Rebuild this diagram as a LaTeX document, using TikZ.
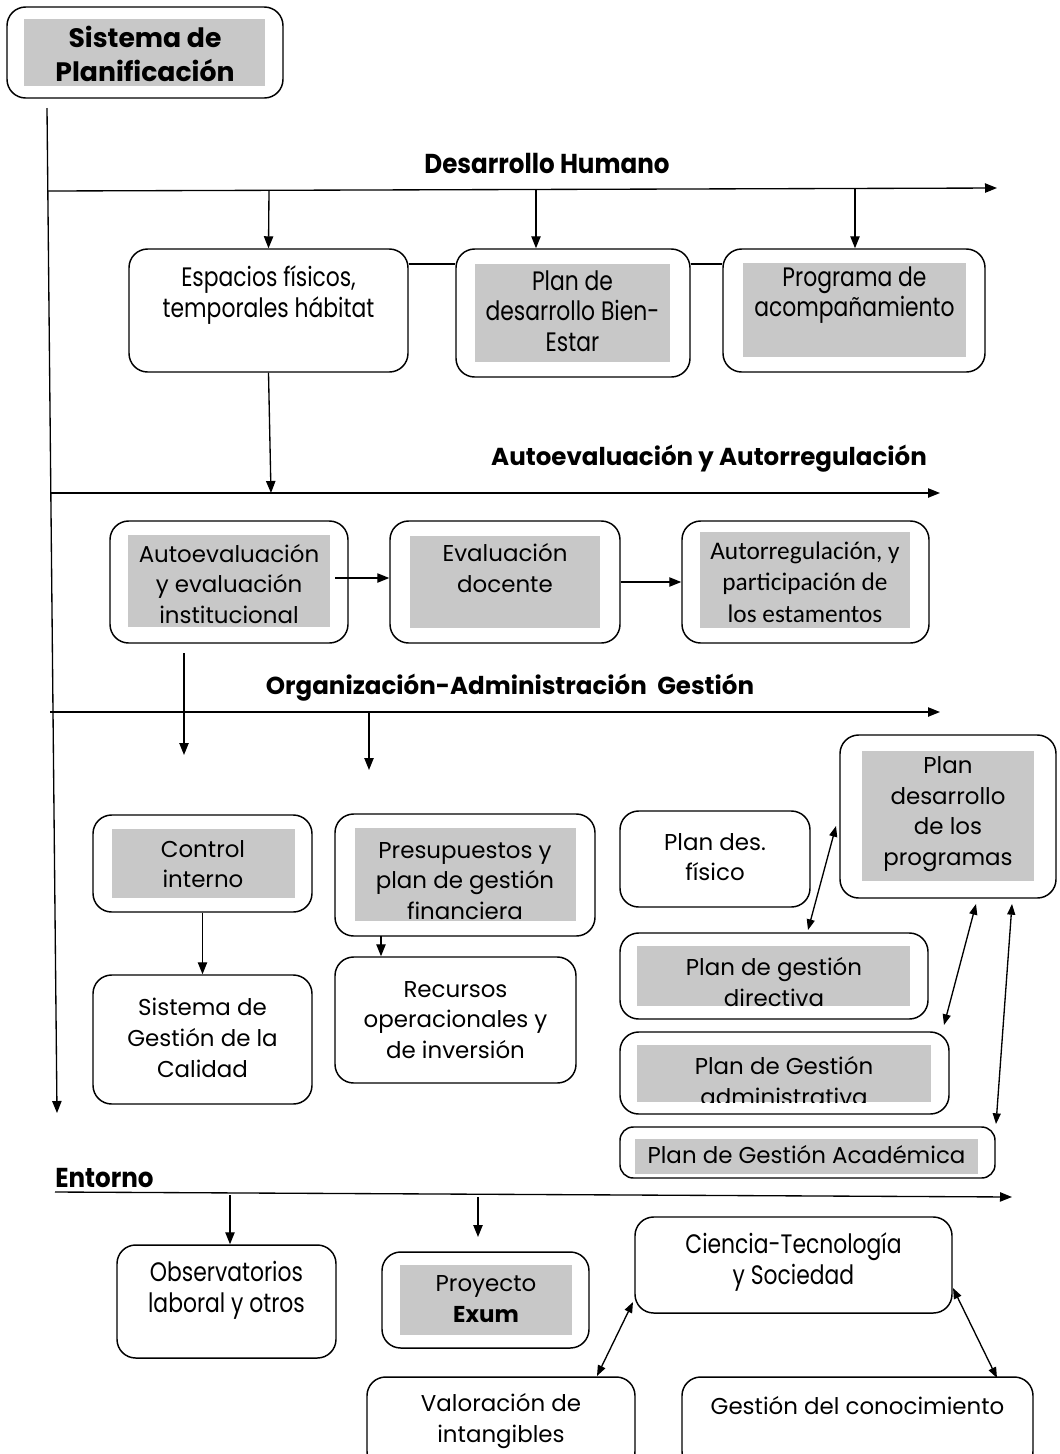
\documentclass[tikz,border=0pt]{standalone}
\usepackage{fontspec}
\setmainfont{Poppins}
\newfontfamily\condfont[FakeStretch=0.82]{Poppins}
\newfontfamily\condtfont[FakeStretch=0.9]{Poppins}
\newfontfamily\calibfont{Carlito}
\usetikzlibrary{arrows.meta}
\definecolor{gfill}{RGB}{200,200,200}
\begin{document}
\begin{tikzpicture}[x=0.75pt,y=-0.75pt,
 rbox/.style 2 args={draw, line width=1.1pt, rounded corners=14pt, minimum width=#1*0.75pt, minimum height=#2*0.75pt, inner sep=0pt, fill=white},
 gbox/.style 2 args={fill=gfill, minimum width=#1*0.75pt, minimum height=#2*0.75pt, inner sep=0pt},
 txt/.style={align=center, font=\fontsize{17.2}{23}\selectfont, inner sep=0pt},
 ctxt/.style={align=center, font=\condfont\fontsize{20}{23}\selectfont, inner sep=0pt},
 ttl/.style={font=\bfseries\fontsize{18.4}{22}\selectfont, inner sep=0pt},
 cttl/.style={font=\condtfont\bfseries\fontsize{20.5}{22}\selectfont, inner sep=0pt},
 arr/.style={line width=1pt, -{Triangle[length=9pt,width=7pt]}},
 darr/.style={line width=1pt, {Triangle[length=8pt,width=6pt]}-{Triangle[length=8pt,width=6pt]}},
 ln/.style={line width=1pt}
]
\useasboundingbox (0,0) rectangle (1060,1454);

% ---------- top box
\node[rbox={276}{91}] (sp) at (145,52.5) {};
\node[gbox={241}{67}] (spg) at (144.5,52.5) {};
\node[align=center, font=\bfseries\fontsize{20}{25}\selectfont, inner sep=0pt] (spt) at (145,54) {Sistema de\\Planificación};

% main vertical line
\coordinate (m0) at (47,108);
\coordinate (m1) at (57,1113);
\draw[arr] (m0) -- (m1);

% ---------- Desarrollo Humano
\coordinate (h1a) at (48,191);
\coordinate (h1b) at (997,188);
\draw[arr] (h1a) -- (h1b);
\node[cttl] (t1) at (547,163) {Desarrollo Humano};

\node[rbox={279}{123}] (e) at (268.5,310.5) {};
\node[ctxt] (et) at (268.5,295) {Espacios físicos,\\temporales hábitat};

\node[rbox={234}{128}] (pd) at (573,313) {};
\node[gbox={195}{98}] (pdg) at (572.5,313) {};
\node[ctxt] (pdt) at (572.5,311) {Plan de\\desarrollo Bien-\\Estar};

\node[rbox={262}{123}] (pa) at (854,310.5) {};
\node[gbox={223}{94}] (pag) at (854.5,310) {};
\node[ctxt] (pat) at (854.5,295) {Programa de\\acompañamiento};

\coordinate (y264) at (0,264);
\draw[ln] (e.east |- y264) -- (pd.west |- y264);
\draw[ln] (pd.east |- y264) -- (pa.west |- y264);

\coordinate (d1) at (269,191);
\coordinate (d2) at (536,190);
\coordinate (d3) at (855,189);
\draw[arr] (d1) -- (e.north);
\draw[arr] (d2) -- (d2 |- pd.north);
\draw[arr] (d3) -- (d3 |- pa.north);

\coordinate (ae) at (271,493);
\draw[arr] (e.south) -- (ae);

% ---------- Autoevaluacion y Autorregulacion
\coordinate (h2a) at (50,493);
\coordinate (h2b) at (940,493);
\draw[arr] (h2a) -- (h2b);
\node[ttl] (t2) at (709,459) {Autoevaluación y Autorregulación};

\node[rbox={238}{122}] (ai) at (229,582) {};
\node[gbox={202}{92}] (aig) at (229,581) {};
\node[txt] (ait) at (229,584) {Autoevaluación\\y evaluación\\institucional};

\node[rbox={230}{122}] (ed) at (505,582) {};
\node[gbox={190}{92}] (edg) at (505,582) {};
\node[txt] (edt) at (505,568) {Evaluación\\docente};

\node[rbox={247}{122}] (ar) at (805.5,582) {};
\node[gbox={210}{96}] (arg) at (805,580) {};
\node[align=center, font=\calibfont\fontsize{19}{23.5}\selectfont, inner sep=0pt] (art) at (805,582) {Autorregulación, y\\participación de\\los estamentos};

\coordinate (y578) at (0,578);
\draw[arr] ([xshift=-10pt]ai.east |- y578) -- (ed.west |- y578);
\draw[arr] (ed.east) -- (ar.west);

\coordinate (a1) at (184,653);
\coordinate (a2) at (184,755);
\draw[arr] (a1) -- (a2);

% ---------- Organizacion
\coordinate (h3a) at (50,712);
\coordinate (h3b) at (940,712);
\draw[arr] (h3a) -- (h3b);
\node[ttl] (t3) at (510,688) {Organización-Administración\ \ Gestión};
\coordinate (o1) at (369,712);
\coordinate (o2) at (369,770);
\draw[arr] (o1) -- (o2);

\node[rbox={219}{97}] (ci) at (202.5,863.5) {};
\node[gbox={183}{69}] (cig) at (203.5,863.5) {};
\node[txt] (cit) at (203,864) {Control\\interno};

\node[rbox={219}{129}] (sg) at (202.5,1039.5) {};
\node[txt] (sgt) at (202.5,1038) {Sistema de\\Gestión de la\\Calidad};
\draw[arr] (ci.south) -- (sg.north);

\node[rbox={260}{122}] (pp) at (465,875) {};
\node[gbox={221}{93}] (ppg) at (465.5,874.5) {};
\begin{scope}
\clip (ppg.south west) rectangle (ppg.north east);
\node[txt] (ppt) at (465,881) {Presupuestos y\\plan de gestión\\financiera};
\end{scope}

\node[rbox={241}{126}] (ro) at (455.5,1020) {};
\node[txt] (rot) at (455.5,1020) {Recursos\\operacionales y\\de inversión};
\coordinate (p1) at (381,936);
\draw[arr] (p1) -- (p1 |- ro.north);

\node[rbox={190}{96}] (pf) at (715,859) {};
\node[txt] (pft) at (715,857) {Plan des.\\físico};

\node[rbox={216}{163}] (pdp) at (948,816.5) {};
\node[gbox={172}{130}] (pdpg) at (948,816) {};
\node[txt] (pdpt) at (948,814) {Plan\\desarrollo\\de los\\programas};

\node[rbox={308}{86}] (gd) at (774,976) {};
\node[gbox={273}{60}] (gdg) at (773.5,976) {};
\begin{scope}
\clip (gdg.south west) rectangle (gdg.north east);
\node[txt] (gdt) at (774,982) {Plan de gestión\\directiva};
\end{scope}

\node[rbox={329}{82}] (ga) at (784.5,1073) {};
\node[gbox={294}{57}] (gag) at (784,1073.5) {};
\begin{scope}
\clip (gag.south west) rectangle (gag.north east);
\node[txt] (gat) at (784,1081) {Plan de Gestión\\administrativa};
\end{scope}

\node[rbox={375}{51}, rounded corners=10pt] (gac) at (807.5,1152.5) {};
\node[gbox={343}{35}] (gacg) at (806.5,1156.5) {};
\node[txt] (gact) at (806.5,1155) {Plan de Gestión Académica};

\coordinate (q1) at (808,930);
\coordinate (q2) at (836,826);
\draw[darr] (q1) -- (q2);
\coordinate (q3) at (944,1025);
\coordinate (q4) at (976,904);
\draw[darr] (q3) -- (q4);
\coordinate (q5) at (996,1124);
\coordinate (q6) at (1012,904);
\draw[darr] (q5) -- (q6);

% ---------- Entorno
\coordinate (h4a) at (55,1192);
\coordinate (h4b) at (1012,1197);
\draw[arr] (h4a) -- (h4b);
\node[cttl, anchor=west] (t4) at (55,1178) {Entorno};

\node[rbox={219}{113}] (ob) at (226.5,1301.5) {};
\node[ctxt] (obt) at (226.5,1290.5) {Observatorios\\laboral y otros};
\coordinate (n1) at (230,1195);
\draw[arr] (n1) -- (ob.north -| n1);

\node[rbox={207}{96}] (px) at (485.5,1300) {};
\node[gbox={172}{70}] (pxg) at (486,1300) {};
\node[txt] (pxt) at (486,1299) {Proyecto\\\textbf{Exum}};
\coordinate (n2) at (478,1197);
\coordinate (n3) at (478,1237);
\draw[arr] (n2) -- (n3);

\node[rbox={317}{96}] (ct) at (793.5,1265) {};
\node[ctxt] (ctt) at (793.5,1262) {Ciencia-Tecnología\\y Sociedad};

\node[rbox={268}{93}] (vi) at (501,1423.5) {};
\node[txt] (vit) at (501,1421) {Valoración de\\intangibles};

\node[rbox={351}{93}] (gc) at (857.5,1423.5) {};
\node[txt] (gct) at (857.5,1406) {Gestión del conocimiento};

\coordinate (r1) at (633,1302);
\coordinate (r2) at (597,1376);
\draw[darr] (r1) -- (r2);
\coordinate (r3) at (953,1288);
\coordinate (r4) at (997,1378);
\draw[darr] (r3) -- (r4);
\end{tikzpicture}
\end{document}
